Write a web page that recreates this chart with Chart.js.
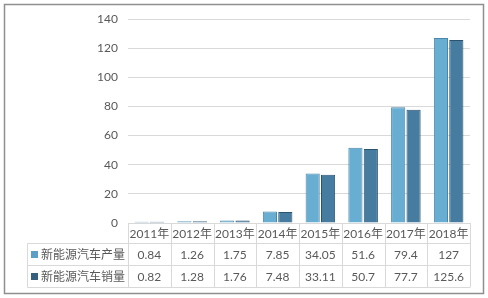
<!DOCTYPE html>
<html>
<head>
<meta charset="utf-8">
<script src="https://cdn.jsdelivr.net/npm/chart.js@4/dist/chart.umd.min.js"></script>
<style>
  html, body { margin: 0; padding: 0; background: #fff; }
  #wrap { width: 488px; height: 298px; }
</style>
</head>
<body>
<div id="wrap"><canvas id="c" width="488" height="298"></canvas></div>
<script>
  var years = ['2011年', '2012年', '2013年', '2014年', '2015年', '2016年', '2017年', '2018年'];
  var production = [0.84, 1.26, 1.75, 7.85, 34.05, 51.6, 79.4, 127];
  var sales = [0.82, 1.28, 1.76, 7.48, 33.11, 50.7, 77.7, 125.6];
  var productionLabels = ['0.84', '1.26', '1.75', '7.85', '34.05', '51.6', '79.4', '127'];
  var salesLabels = ['0.82', '1.28', '1.76', '7.48', '33.11', '50.7', '77.7', '125.6'];
  var seriesNames = ['新能源汽车产量', '新能源汽车销量'];

  var FONT = 'Lato, "Noto Sans CJK SC", sans-serif';
  var TEXT = '#595959';
  var LINE = '#d9d9d9';

  function barFill(light, dark) {
    return function (c) {
      var el = c.element;
      if (!el || el.width == null || isNaN(el.x)) return light;
      var g = c.chart.ctx.createLinearGradient(el.x - el.width / 2, 0, el.x + el.width / 2, 0);
      g.addColorStop(0, dark);
      g.addColorStop(0.35, light);
      g.addColorStop(1, dark);
      return g;
    };
  }

  // frame and data table under the x axis
  var tablePlugin = {
    id: 'table',
    beforeDraw: function (chart) {
      var ctx = chart.ctx;
      ctx.save();
      ctx.strokeStyle = '#8f8f8f';
      ctx.lineWidth = 1.5;
      ctx.strokeRect(4.5, 4.5, 479, 289);
      ctx.restore();
    },
    afterDraw: function (chart) {
      var ctx = chart.ctx;
      var area = chart.chartArea;
      var x = chart.scales.x;
      var n = years.length;
      var step = (area.right - area.left) / n;
      var top = Math.round(area.bottom) + 0.5;
      var r1 = top + 20, r2 = r1 + 22, r3 = r2 + 22;
      var leftCol = 27.5;

      ctx.save();
      ctx.strokeStyle = LINE;
      ctx.lineWidth = 1;
      ctx.beginPath();
      [r1, r2, r3].forEach(function (y) {
        ctx.moveTo(leftCol, y);
        ctx.lineTo(area.right, y);
      });
      for (var i = 0; i <= n; i++) {
        var vx = Math.round(area.left + i * step) + 0.5;
        ctx.moveTo(vx, top);
        ctx.lineTo(vx, r3);
      }
      ctx.moveTo(leftCol, r1);
      ctx.lineTo(leftCol, r3);
      ctx.stroke();

      ctx.fillStyle = TEXT;
      ctx.font = '12px ' + FONT;
      ctx.textAlign = 'center';
      ctx.textBaseline = 'middle';
      for (var j = 0; j < n; j++) {
        var cx = x.getPixelForValue(j);
        ctx.fillText(years[j], cx, (top + r1) / 2 + 1);
        ctx.fillText(productionLabels[j], cx, (r1 + r2) / 2 + 1);
        ctx.fillText(salesLabels[j], cx, (r2 + r3) / 2 + 1);
      }

      var colors = ['#5b9fc6', '#35607f'];
      var rows = [(r1 + r2) / 2, (r2 + r3) / 2];
      ctx.textAlign = 'left';
      for (var k = 0; k < 2; k++) {
        ctx.fillStyle = colors[k];
        ctx.fillRect(31, rows[k] - 3.5, 7, 7);
        ctx.fillStyle = TEXT;
        ctx.font = '12px ' + FONT;
        ctx.fillText(seriesNames[k], 41, rows[k] + 1);
      }
      ctx.restore();
    }
  };

  new Chart(document.getElementById('c'), {
    type: 'bar',
    data: {
      labels: years,
      datasets: [
        {
          label: seriesNames[0],
          data: production,
          backgroundColor: barFill('#68aed3', '#4a8ab1'),
          borderColor: '#4a86a8',
          borderWidth: 1,
          categoryPercentage: 0.72,
          barPercentage: 0.92
        },
        {
          label: seriesNames[1],
          data: sales,
          backgroundColor: barFill('#457ca0', '#2c5676'),
          borderColor: '#2b526f',
          borderWidth: 1,
          categoryPercentage: 0.72,
          barPercentage: 0.92
        }
      ]
    },
    options: {
      responsive: false,
      animation: false,
      layout: { padding: { left: 0, right: 18, top: 19, bottom: 75 } },
      plugins: {
        legend: { display: false },
        tooltip: { enabled: false }
      },
      scales: {
        x: {
          afterFit: function (s) { s.height = 0; },
          ticks: { display: false },
          grid: { display: false },
          border: { color: LINE }
        },
        y: {
          min: 0,
          max: 140,
          afterFit: function (s) { s.width = 128; },
          ticks: {
            stepSize: 20,
            padding: 10,
            color: TEXT,
            font: { family: FONT, size: 12 }
          },
          grid: { color: LINE, drawTicks: false },
          border: { display: false }
        }
      }
    },
    plugins: [tablePlugin]
  });
</script>
</body>
</html>
